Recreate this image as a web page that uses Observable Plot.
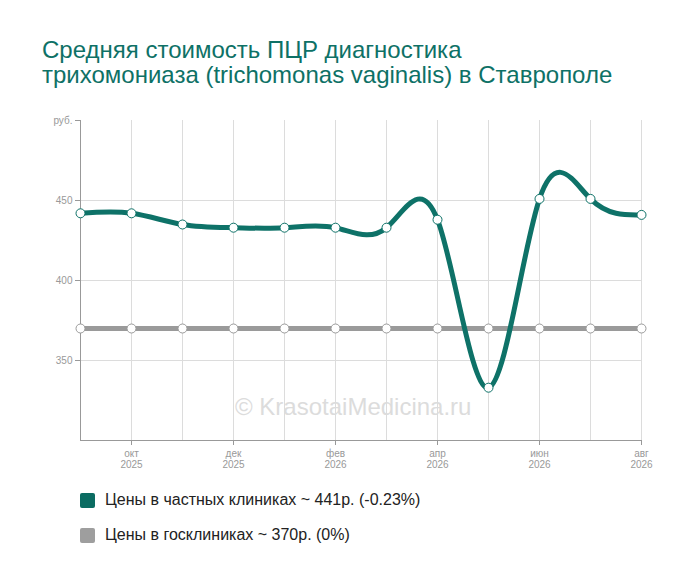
<!DOCTYPE html>
<html>
<head>
<meta charset="utf-8">
<script src="https://cdn.jsdelivr.net/npm/d3@7"></script>
<script src="https://cdn.jsdelivr.net/npm/@observablehq/plot@0.6"></script>
<style>
  html, body { margin: 0; padding: 0; background: #fff; }
  body { width: 700px; height: 583px; position: relative; font-family: "Liberation Sans", Arial, sans-serif; overflow: hidden; }
  #title { position: absolute; left: 42px; top: 37px; font-size: 24px; line-height: 25px; color: #0e7166; white-space: nowrap; }
  #chart { position: absolute; left: 0; top: 100px; }
  #wm { position: absolute; left: 235px; top: 395px; font-size: 24px; line-height: 24px; color: #dcdcdc; white-space: nowrap; }
  .leg { position: absolute; left: 80px; font-size: 16px; color: #222; display: flex; align-items: center; }
  .sw { width: 15px; height: 15px; border-radius: 2px; margin-right: 10px; }
</style>
</head>
<body>
<div id="title">Средняя стоимость ПЦР диагностика<br>трихомониаза (trichomonas vaginalis) в Ставрополе</div>
<div id="chart"></div>
<div id="wm">© KrasotaiMedicina.ru</div>
<div class="leg" style="top:491px"><div class="sw" style="background:#0b6c62"></div>Цены в частных клиниках ~ 441р. (-0.23%)</div>
<div class="leg" style="top:526px"><div class="sw" style="background:#9e9e9e"></div>Цены в госклиниках ~ 370р. (0%)</div>
<script>
const months = ["сен","окт","ноя","дек","янв","фев","мар","апр","май","июн","июл","авг"];
const years = ["2025","2025","2025","2025","2026","2026","2026","2026","2026","2026","2026","2026"];
const privatePrices = [442, 442, 435, 433, 433, 433, 433, 438, 333, 451, 451, 441];
const statePrices = [370, 370, 370, 370, 370, 370, 370, 370, 370, 370, 370, 370];
const labeledMonths = [1, 3, 5, 7, 9, 11];
const yTicks = [350, 400, 450, 500];
const yGrid = [350, 400, 450];

const idx = months.map((_, i) => i);
const privData = idx.map(i => ({i, v: privatePrices[i]}));
const stateData = idx.map(i => ({i, v: statePrices[i]}));

const teal = "#0e7268";
const grey = "#9a9a9a";

const chart = Plot.plot({
  width: 700,
  height: 380,
  marginTop: 20,
  marginBottom: 40,
  marginLeft: 80,
  marginRight: 59,
  style: {fontFamily: "Liberation Sans, Arial, sans-serif", fontSize: "10px", color: "#999"},
  x: {type: "linear", domain: [0, 11], axis: null, label: null},
  y: {domain: [300, 500], axis: null, label: null},
  marks: [
    Plot.ruleX(idx.slice(1), {x: d => d, y1: 300, y2: 500, stroke: "#dcdcdc", strokeWidth: 1}),
    Plot.ruleY(yGrid, {y: d => d, x1: 0, x2: 11, stroke: "#dcdcdc", strokeWidth: 1}),
    Plot.axisY(yTicks, {
      label: null, tickSize: 5, tickPadding: 3, stroke: "#999", color: "#999", fontSize: 10,
      tickFormat: d => d === 500 ? "руб." : String(d)
    }),
    Plot.ruleX([0], {y1: 300, y2: 500, stroke: "#999"}),
    Plot.ruleY([300], {x1: 0, x2: 11, stroke: "#999"}),
    Plot.axisX(labeledMonths, {
      label: null, tickSize: 5, tickPadding: 3, stroke: "#999", color: "#999", fontSize: 10, lineHeight: 1.15,
      tickFormat: i => months[i] + "\n" + years[i]
    }),
    Plot.line(stateData, {x: "i", y: "v", stroke: grey, strokeWidth: 5}),
    Plot.dot(stateData, {x: "i", y: "v", r: 4.5, fill: "#fff", stroke: grey, strokeWidth: 1}),
    Plot.line(privData, {x: "i", y: "v", stroke: teal, strokeWidth: 5, curve: "natural"}),
    Plot.dot(privData, {x: "i", y: "v", r: 4.5, fill: "#fff", stroke: teal, strokeWidth: 1})
  ]
});
document.getElementById("chart").appendChild(chart);
</script>
</body>
</html>
